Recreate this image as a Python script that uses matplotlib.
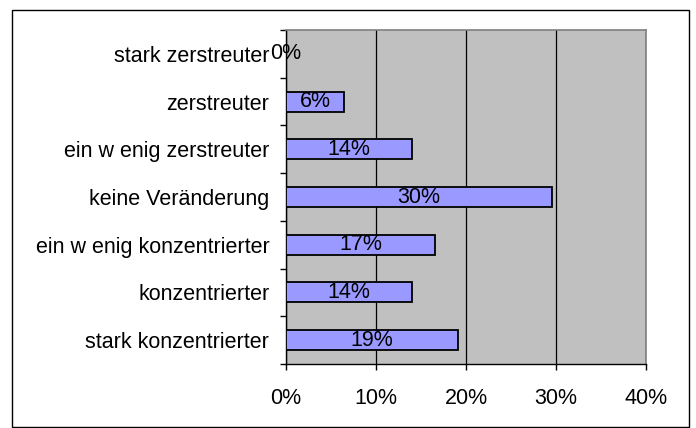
import matplotlib.pyplot as plt
from matplotlib.patches import Rectangle
from matplotlib.ticker import FixedLocator, FuncFormatter
import numpy as np

plt.rcParams["font.family"] = ["Liberation Sans", "DejaVu Sans"]

# categories bottom to top
categories = [
    "stark konzentrierter",
    "konzentrierter",
    "ein w enig konzentrierter",
    "keine Veränderung",
    "ein w enig zerstreuter",
    "zerstreuter",
    "stark zerstreuter",
]
values = [19.15, 14.03, 16.6, 29.5, 14.05, 6.45, 0.0]
labels = ["19%", "14%", "17%", "30%", "14%", "6%", "0%"]

fig = plt.figure(figsize=(6.96, 4.28), dpi=100)
ax = fig.add_axes([286 / 696, 1 - 364 / 428, 360 / 696, 334 / 428])

y = np.arange(len(categories))
ax.set_facecolor("#C0C0C0")
ax.barh(y, values, height=0.42, color="#9999FF", edgecolor="black", linewidth=1.3, zorder=3)

for yi, v, lab in zip(y, values, labels):
    ax.text(v / 2, yi, lab, ha="center", va="center", fontsize=15.5, color="black", zorder=4)

ax.set_xlim(0, 40)
ax.set_ylim(-0.5, len(categories) - 0.5)
ax.set_xticks([0, 10, 20, 30, 40])
ax.xaxis.set_major_formatter(FuncFormatter(lambda v, p: f"{v:.0f}%"))
ax.grid(axis="x", color="black", linewidth=0.9, zorder=1)

ax.set_yticks(y)
ax.set_yticklabels(categories, fontsize=15.5)
ax.yaxis.set_minor_locator(FixedLocator(np.arange(-0.5, len(categories), 1.0)))
ax.tick_params(axis="y", which="major", length=0, pad=12)
ax.tick_params(axis="y", which="minor", length=4, width=1, color="black")
ax.tick_params(axis="x", which="major", length=4, width=1, labelsize=15.5, pad=13)

for side in ["top", "right"]:
    ax.spines[side].set_color("#808080")
    ax.spines[side].set_linewidth(1.2)
for side in ["left", "bottom"]:
    ax.spines[side].set_color("black")
    ax.spines[side].set_linewidth(1.0)

fig.patches.append(Rectangle((12 / 696, 1 / 428), 677 / 696, 417 / 428,
                             transform=fig.transFigure, fill=False,
                             edgecolor="black", linewidth=1.0))

fig.savefig("out.png", dpi=100)
